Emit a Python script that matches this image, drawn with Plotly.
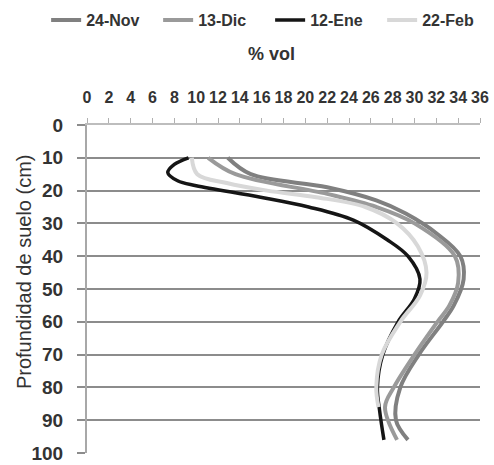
import plotly.graph_objects as go

# 24-Nov
nov_depth = [10, 15, 19, 23, 27, 33, 40, 47, 55, 60, 70, 80, 90, 96]
nov_vol = [12.9, 15.0, 22.0, 26.5, 29.2, 32.0, 34.2, 34.5, 33.6, 32.6, 30.4, 28.7, 28.3, 29.4]
# 13-Dic
dic_depth = [10, 15, 21, 25, 30, 40, 48, 55, 60, 70, 80, 86, 96]
dic_vol = [11.1, 13.6, 22.0, 26.5, 30.0, 33.7, 34.0, 33.2, 32.1, 30.0, 28.1, 27.3, 28.4]
# 12-Ene
ene_depth = [10, 12, 14.5, 17, 18.5, 22, 25, 29, 35, 40, 47, 53, 60, 70, 80, 87, 96]
ene_vol = [9.3, 8.0, 7.4, 8.3, 10.0, 15.9, 20.3, 24.4, 27.5, 29.4, 30.5, 30.0, 28.5, 27.1, 26.6, 26.8, 27.2]
# 22-Feb
feb_depth = [10, 15, 17.7, 20, 22, 25, 30, 37, 45, 52, 60, 70, 80, 86]
feb_vol = [9.6, 10.1, 12.8, 16.5, 21.0, 25.5, 28.4, 30.3, 31.1, 30.5, 28.7, 27.0, 26.5, 26.7]

x_ticks = list(range(0, 37, 2))
y_ticks = list(range(0, 101, 10))

FONT = "Liberation Sans, Arial, sans-serif"

series = [
    ("24-Nov", nov_depth, nov_vol, "#808080", 4),
    ("13-Dic", dic_depth, dic_vol, "#9a9a9a", 4),
    ("12-Ene", ene_depth, ene_vol, "#151515", 3.5),
    ("22-Feb", feb_depth, feb_vol, "#d8d8d8", 4),
]

fig = go.Figure()
for name, d, v, c, w in series:
    fig.add_trace(go.Scatter(
        x=v, y=d, name=name, mode="lines",
        line=dict(color=c, width=w, shape="spline", smoothing=1),
    ))

fig.update_layout(
    width=494, height=465,
    margin=dict(l=87, r=14, t=125, b=12, autoexpand=False),
    paper_bgcolor="white", plot_bgcolor="white",
    font=dict(family=FONT, color="#333333"),
    showlegend=True,
    legend=dict(
        orientation="h", x=-0.104, xanchor="left", y=1.372, yanchor="top",
        font=dict(size=16, weight="bold", color="#333333"),
        itemwidth=30, tracegroupgap=0, entrywidth=67, entrywidthmode="pixels",
    ),
    xaxis=dict(
        side="top", range=[0, 36], tickvals=x_ticks,
        ticktext=[str(t) for t in x_ticks],
        showgrid=False, zeroline=False, automargin=False,
        showline=True, linecolor="#bdbdbd", linewidth=2,
        ticks="outside", ticklen=5, tickcolor="#b0b0b0", tickwidth=1,
        tickfont=dict(size=16, weight="bold", color="#333333"),
        ticklabelstandoff=9,
    ),
    yaxis=dict(
        range=[100, 0], tickvals=y_ticks,
        ticktext=[str(t) for t in y_ticks],
        showgrid=True, gridcolor="#8c8c8c", gridwidth=2,
        zeroline=False, automargin=False,
        showline=True, linecolor="#a8a8a8", linewidth=2,
        ticks="outside", ticklen=8, tickcolor="#8c8c8c", tickwidth=2,
        tickfont=dict(size=19, weight="bold", color="#333333"),
        ticklabelstandoff=10,
    ),
    annotations=[
        dict(text="% vol", xref="paper", yref="paper", x=0.469, y=1.2166,
             xanchor="center", yanchor="middle", showarrow=False,
             font=dict(size=18, weight="bold", color="#333333")),
        dict(text="Profundidad de suelo (cm)", xref="paper", yref="paper",
             x=-0.160, y=0.552, xanchor="center", yanchor="middle",
             textangle=-90, showarrow=False,
             font=dict(size=20, color="#333333")),
    ],
)

fig.write_html("out.html", config={"displayModeBar": False},
               post_script="document.body.style.margin='0';")
